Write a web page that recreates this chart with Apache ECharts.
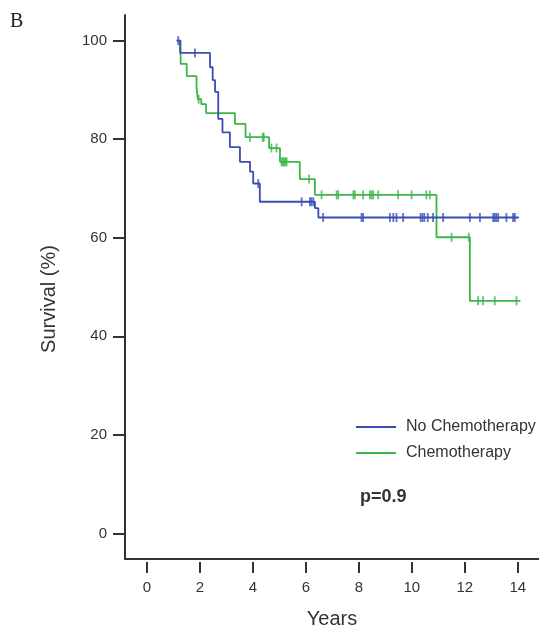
<!DOCTYPE html>
<html>
<head>
<meta charset="utf-8">
<script src="https://cdn.jsdelivr.net/npm/echarts@6/dist/echarts.min.js"></script>
<style>
    html, body { margin: 0; padding: 0; background: #fff; }
    #mainChart { width: 539px; height: 634px; }
</style>
</head>
<body>
<div id="mainChart"></div>
<script>
var legends = ['No Chemotherapy', 'Chemotherapy'];
var xTicks = [0, 2, 4, 6, 8, 10, 12, 14];
var yTicks = [0, 20, 40, 60, 80, 100];

// [years, survival %] after each drop
var noChemoCurve = [[1.12, 100], [1.25, 97.5], [2.38, 94.6], [2.48, 92.0], [2.57, 89.6], [2.69, 84.1],
    [2.85, 81.4], [3.13, 78.4], [3.51, 75.4], [3.89, 73.4], [4.01, 71.0], [4.26, 67.3],
    [6.34, 66.0], [6.47, 64.1], [14.04, 64.1]];
var chemoCurve = [[1.12, 100], [1.27, 95.3], [1.50, 92.8], [1.87, 90.5], [1.92, 88.1], [2.05, 87.1],
    [2.23, 85.3], [3.32, 83.1], [3.72, 80.4], [4.61, 78.2], [5.02, 75.4], [5.77, 71.9],
    [6.34, 68.7], [10.93, 60.1], [12.19, 47.2], [14.1, 47.2]];

// censored times
var noChemoCensored = [1.18, 1.81, 4.20, 5.84, 6.15, 6.21, 6.28, 6.65, 8.10, 8.16, 9.17, 9.30, 9.42,
    9.67, 10.33, 10.40, 10.47, 10.60, 10.80, 11.18, 12.19, 12.57, 13.07, 13.13, 13.19, 13.26,
    13.57, 13.82, 13.89];
var chemoCensored = [1.95, 3.89, 4.37, 4.41, 4.70, 4.89, 5.08, 5.13, 5.18, 5.23, 5.27, 6.12, 6.59,
    7.16, 7.22, 7.79, 7.85, 8.16, 8.42, 8.48, 8.54, 8.73, 9.48, 9.99, 10.55, 10.68, 11.50,
    12.15, 12.50, 12.69, 13.13, 13.95];
var pValue = 'p=0.9';

var blue = '#3a4db4';
var green = '#3cb64a';

function survivalAt(curve, t) {
    var s = curve[0][1];
    for (var i = 0; i < curve.length; i++) {
        if (curve[i][0] <= t) s = curve[i][1];
    }
    return s;
}
function censorPoints(curve, times) {
    var pts = [];
    for (var i = 0; i < times.length; i++) {
        pts.push([times[i], survivalAt(curve, times[i])]);
    }
    return pts;
}

var myChart = echarts.init(document.getElementById('mainChart'));
var axisColor = '#333';
var font = 'Liberation Sans, Arial, sans-serif';

myChart.setOption({
    animation: false,
    textStyle: {fontFamily: font},
    grid: {left: 125, right: 0, top: 15, bottom: 70},
    legend: {
        data: legends,
        orient: 'vertical',
        left: 351,
        top: 414,
        itemWidth: 40,
        itemHeight: 2,
        itemGap: 10,
        icon: 'rect',
        textStyle: {fontSize: 16, color: '#333', fontFamily: font, padding: [0, 0, 0, 5]}
    },
    graphic: [{
        type: 'text', left: 10, top: 12,
        style: {text: 'B', font: '20px "Liberation Serif", serif', fill: '#222'}
    }, {
        type: 'text', left: 360, top: 488,
        style: {text: pValue, font: 'bold 18px "Liberation Sans", Arial', fill: '#333'}
    }],
    xAxis: [{
        type: 'value',
        min: -0.83,
        max: 14.8,
        name: 'Years',
        nameLocation: 'middle',
        nameGap: 50,
        nameTextStyle: {fontSize: 20, color: '#333'},
        splitLine: {show: false},
        axisLine: {onZero: false, lineStyle: {color: axisColor, width: 2}},
        axisTick: {show: false},
        axisLabel: {customValues: xTicks, margin: 21, fontSize: 15, color: '#333'}
    }, {
        type: 'value',
        min: -0.83,
        max: 14.8,
        position: 'bottom',
        offset: 3,
        splitLine: {show: false},
        axisLine: {show: false, onZero: false},
        axisTick: {customValues: xTicks, length: 11, lineStyle: {color: axisColor, width: 2}},
        axisLabel: {show: false}
    }],
    yAxis: {
        type: 'value',
        min: -5.2,
        max: 105.2,
        name: 'Survival (%)',
        nameLocation: 'middle',
        nameGap: 66,
        nameTextStyle: {fontSize: 20, color: '#333', padding: [0, 24, 0, 0]},
        splitLine: {show: false},
        axisLine: {onZero: false, lineStyle: {color: axisColor, width: 2}},
        axisTick: {customValues: yTicks, length: 12, lineStyle: {color: axisColor, width: 2}},
        axisLabel: {customValues: yTicks, margin: 18, fontSize: 15, color: '#333'}
    },
    series: [{
        name: legends[0],
        type: 'line',
        step: 'end',
        symbol: 'none',
        color: blue,
        lineStyle: {width: 1.8, color: blue},
        data: noChemoCurve,
        z: 3
    }, {
        name: legends[1],
        type: 'line',
        step: 'end',
        symbol: 'none',
        color: green,
        lineStyle: {width: 1.8, color: green},
        data: chemoCurve,
        z: 2
    }, {
        name: 'noChemoCensor',
        type: 'scatter',
        symbol: 'rect',
        symbolSize: [1.8, 9],
        itemStyle: {color: blue},
        data: censorPoints(noChemoCurve, noChemoCensored),
        z: 4
    }, {
        name: 'chemoCensor',
        type: 'scatter',
        symbol: 'rect',
        symbolSize: [1.8, 9],
        itemStyle: {color: green},
        data: censorPoints(chemoCurve, chemoCensored),
        z: 4
    }]
});
</script>
</body>
</html>
